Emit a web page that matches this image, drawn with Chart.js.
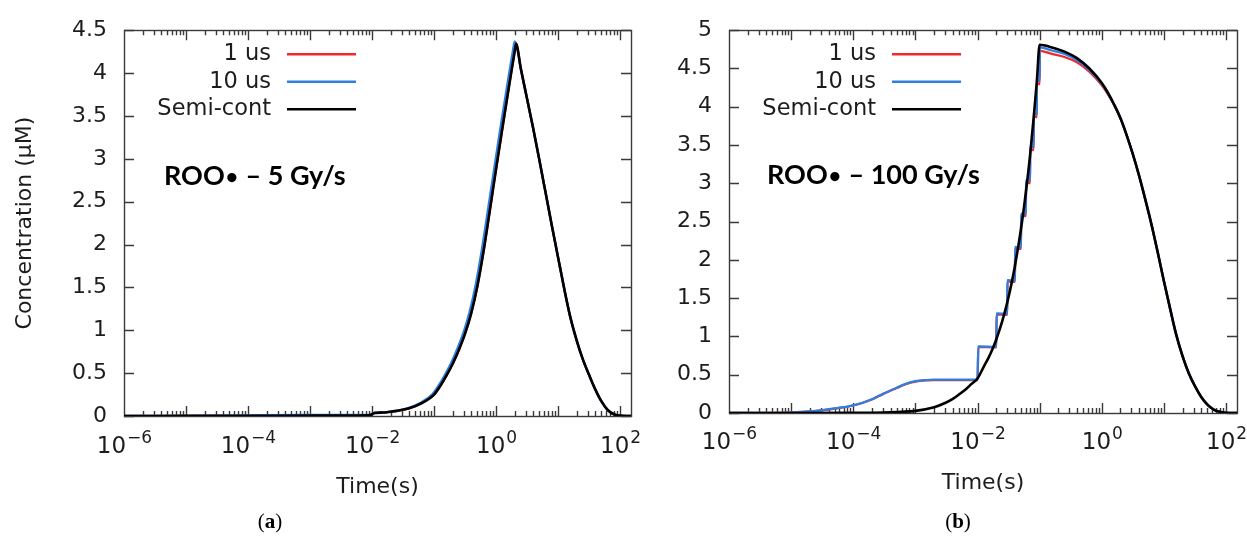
<!DOCTYPE html>
<html>
<head>
<meta charset="utf-8">
<script src="https://cdn.jsdelivr.net/npm/chart.js@4.4.0/dist/chart.umd.min.js"></script>
<style>
  html, body { margin: 0; padding: 0; background: #fff; }
  #wrap { position: relative; width: 1247px; height: 542px; overflow: hidden; }
  canvas { position: absolute; top: 0; }
  #cA { left: 0; }
  #cB { left: 640px; }
  .cap { position: absolute; top: 509px; font-family: "Liberation Serif", serif; font-size: 21px;
         color: #000; transform: translateX(-50%); white-space: nowrap; }
</style>
</head>
<body>
<div id="wrap">
  <canvas id="cA" width="680" height="542"></canvas>
  <canvas id="cB" width="607" height="542"></canvas>
  <div class="cap" style="left:270px">(<b>a</b>)</div>
  <div class="cap" style="left:958px">(<b>b</b>)</div>
</div>
<script>
// ---- series names, ticks and notes ----
const SERIES_NAMES = ['1 us', '10 us', 'Semi-cont'];
const X_TICKS = [1e-6, 1e-4, 1e-2, 1, 1e2];
const Y_TICKS_A = [0, 0.5, 1, 1.5, 2, 2.5, 3, 3.5, 4, 4.5];
const Y_TICKS_B = [0, 0.5, 1, 1.5, 2, 2.5, 3, 3.5, 4, 4.5, 5];
const NOTE_A = 'ROO\u2022 \u2013 5 Gy/s';
const NOTE_B = 'ROO\u2022 \u2013 100 Gy/s';

// ---- (a) 5 Gy/s : time (s) and ROO• concentration (µM) ----
const tA_semi = [1e-6, 1e-5, 1e-4, 1e-3, 9e-3, 0.011, 0.015, 0.02, 0.0251, 0.0398, 0.0631, 0.1,
  0.126, 0.158, 0.2, 0.251, 0.316, 0.398, 0.501, 0.631, 0.794, 1, 1.26, 1.58, 1.995, 2.1,
  2.51, 3.16, 3.98, 5.01, 6.31, 7.94, 10, 12.6, 15.8, 20, 25.1, 31.6, 39.8, 50.1, 63.1, 79.4, 100, 126, 150];
const cA_semi = [0, 0.001, 0.002, 0.004, 0.008, 0.035, 0.04, 0.05, 0.06, 0.09, 0.15, 0.25,
  0.35, 0.47, 0.61, 0.77, 0.96, 1.2, 1.52, 1.93, 2.4, 2.88, 3.35, 3.8, 4.25, 4.34,
  4.05, 3.7, 3.35, 2.98, 2.6, 2.22, 1.85, 1.48, 1.15, 0.88, 0.66, 0.48, 0.31, 0.17, 0.07, 0.02, 0.004, 0, 0];
const cA_1us = [0, 0.001, 0.002, 0.004, 0.008, 0.035, 0.04, 0.05, 0.06, 0.09, 0.15, 0.25,
  0.35, 0.47, 0.61, 0.77, 0.96, 1.2, 1.52, 1.93, 2.4, 2.88, 3.35, 3.8, 4.26, 4.35,
  4.05, 3.7, 3.35, 2.98, 2.6, 2.22, 1.85, 1.48, 1.15, 0.88, 0.66, 0.48, 0.31, 0.17, 0.07, 0.02, 0.004, 0, 0];
const tA_10us = [1e-6, 1e-5, 1e-4, 1e-3, 9e-3, 0.0105, 0.015, 0.02, 0.0251, 0.037, 0.0587, 0.093,
  0.117, 0.147, 0.186, 0.233, 0.294, 0.37, 0.466, 0.587, 0.738, 0.93, 1.17, 1.47, 1.86, 2.0,
  2.51, 3.16, 3.98, 5.01, 6.31, 7.94, 10, 12.6, 15.8, 20, 25.1, 31.6, 39.8, 50.1, 63.1, 79.4, 100, 126, 150];
const cA_10us = [0, 0.002, 0.008, 0.012, 0.014, 0.036, 0.042, 0.05, 0.06, 0.09, 0.15, 0.25,
  0.35, 0.47, 0.61, 0.77, 0.96, 1.2, 1.52, 1.93, 2.4, 2.88, 3.35, 3.8, 4.25, 4.37,
  4.05, 3.7, 3.35, 2.98, 2.6, 2.22, 1.85, 1.48, 1.15, 0.88, 0.66, 0.48, 0.31, 0.17, 0.07, 0.02, 0.004, 0, 0];

// ---- (b) 100 Gy/s ----
// build-up during irradiation (up to 0.1 s)
const tB_semiRise = [1e-6, 1e-5, 1e-4, 3e-4, 1e-3, 2e-3, 3e-3, 4e-3, 5e-3, 6.7e-3, 8e-3, 0.01,
  0.0125, 0.015, 0.0175, 0.02, 0.025, 0.03, 0.035, 0.04, 0.05, 0.06, 0.07, 0.08, 0.09, 0.1];
const cB_semiRise = [0, 0, 0.002, 0.007, 0.028, 0.075, 0.13, 0.185, 0.24, 0.32, 0.38, 0.45,
  0.6, 0.72, 0.84, 0.96, 1.2, 1.44, 1.68, 1.92, 2.4, 2.88, 3.36, 3.85, 4.33, 4.81];
const tB_pulsedRise = [1e-6, 5e-6, 1e-5, 2e-5, 3e-5, 5e-5, 1e-4, 2e-4, 3e-4, 5e-4, 7e-4, 1e-3, 1.5e-3, 2e-3, 5e-3,
  0.01, 0.0103, 0.02, 0.0203, 0.03, 0.0303, 0.04, 0.0403, 0.05, 0.0503, 0.06, 0.0603,
  0.07, 0.0703, 0.08, 0.0803, 0.09, 0.0903, 0.1, 0.1003];
const cB_10usRise = [0, 0.001, 0.005, 0.02, 0.035, 0.06, 0.1, 0.18, 0.25, 0.33, 0.38, 0.415, 0.43, 0.435, 0.435,
  0.435, 0.87, 0.865, 1.3, 1.295, 1.735, 1.73, 2.17, 2.165, 2.605, 2.6, 3.04,
  3.035, 3.475, 3.47, 3.91, 3.905, 4.345, 4.34, 4.775];
const cB_1usRise = [0, 0.002, 0.007, 0.02, 0.033, 0.058, 0.098, 0.177, 0.247, 0.326, 0.376, 0.41, 0.426, 0.43, 0.43,
  0.43, 0.862, 0.857, 1.288, 1.283, 1.718, 1.713, 2.148, 2.143, 2.578, 2.573, 3.008,
  3.003, 3.44, 3.435, 3.87, 3.865, 4.3, 4.295, 4.73];
// decay after irradiation
const tB_decay = [0.158, 0.251, 0.398, 0.631, 1, 1.26, 1.58, 2.0, 2.51, 3.16, 3.98, 5.01, 6.31, 7.94,
  10, 12.6, 15.8, 20, 25.1, 31.6, 39.8, 50.1, 63.1, 79.4, 100, 150];
const cB_semiDecay = [4.775, 4.72, 4.635, 4.5, 4.31, 4.18, 4.03, 3.85, 3.63, 3.38, 3.1, 2.79, 2.46, 2.1,
  1.72, 1.36, 1.02, 0.74, 0.52, 0.35, 0.21, 0.11, 0.045, 0.015, 0.003, 0];
const cB_10usDecay = [4.735, 4.69, 4.61, 4.48, 4.295, 4.17, 4.025, 3.85, 3.63, 3.38, 3.1, 2.79, 2.46, 2.1,
  1.72, 1.36, 1.02, 0.74, 0.52, 0.35, 0.21, 0.11, 0.045, 0.015, 0.003, 0];
const cB_1usDecay = [4.69, 4.65, 4.58, 4.46, 4.28, 4.16, 4.02, 3.845, 3.63, 3.38, 3.1, 2.79, 2.46, 2.1,
  1.72, 1.36, 1.02, 0.74, 0.52, 0.35, 0.21, 0.11, 0.045, 0.015, 0.003, 0];

// ---- styling ----
const COLORS = ['#ee2a2f', '#2f7fe0', '#000000'];
const TEXT_COLOR = '#1c1c1c';
const AXIS_FONT = { family: 'DejaVu Sans', size: 22 };
const X_MIN = 1e-6, X_MAX = 150;

const pts = (ts, vs) => ts.map((t, i) => ({ x: t, y: vs[i] }));

// Box frame with inward ticks (log minor ticks on x)
const frameTicks = {
  id: 'frameTicks',
  beforeDatasetsDraw(chart, args, o) {
    const { ctx, chartArea: a, scales: { x, y } } = chart;
    ctx.save();
    ctx.strokeStyle = o.color;
    ctx.lineWidth = o.width;
    ctx.beginPath();
    const lo = Math.floor(Math.log10(x.min)), hi = Math.ceil(Math.log10(x.max));
    for (let e = lo; e <= hi; e++) {
      for (let m = 1; m <= 9; m++) {
        const v = m * Math.pow(10, e);
        if (v <= x.min * 1.0001 || v > x.max) continue;
        const px = Math.round(x.getPixelForValue(v)) + 0.5;
        const len = m === 1 ? o.major : o.minor;
        ctx.moveTo(px, a.bottom); ctx.lineTo(px, a.bottom - len);
        ctx.moveTo(px, a.top); ctx.lineTo(px, a.top + len);
      }
    }
    y.ticks.forEach(t => {
      const py = Math.round(y.getPixelForValue(t.value)) + 0.5;
      ctx.moveTo(a.left, py); ctx.lineTo(a.left + o.major, py);
      ctx.moveTo(a.right, py); ctx.lineTo(a.right - o.major, py);
    });
    ctx.stroke();
    ctx.strokeRect(Math.round(a.left) + 0.5, Math.round(a.top) + 0.5, Math.round(a.width), Math.round(a.height));
    ctx.restore();
  }
};

// Decade labels "10" with a raised exponent, centred on each x tick
const powerLabels = {
  id: 'powerLabels',
  afterDraw(chart, args, o) {
    const { ctx, chartArea: a, scales: { x } } = chart;
    ctx.save();
    ctx.fillStyle = o.color;
    ctx.textAlign = 'left';
    ctx.textBaseline = 'alphabetic';
    x.ticks.forEach(t => {
      const e = Math.round(Math.log10(t.value));
      const expText = e < 0 ? '\u2212' + (-e) : String(e);
      ctx.font = o.baseFont;
      const wb = ctx.measureText('10').width;
      ctx.font = o.expFont;
      const we = ctx.measureText(expText).width;
      const x0 = x.getPixelForValue(t.value) - (wb + we) / 2;
      ctx.font = o.baseFont;
      ctx.fillText('10', x0, a.bottom + o.baseDy);
      ctx.font = o.expFont;
      ctx.fillText(expText, x0 + wb + 1, a.bottom + o.expDy);
    });
    ctx.restore();
  }
};

// Key with right-aligned labels followed by line samples
const sideLegend = {
  id: 'sideLegend',
  afterDatasetsDraw(chart, args, o) {
    const { ctx, chartArea: a } = chart;
    ctx.save();
    ctx.font = o.font;
    ctx.textAlign = 'right';
    ctx.textBaseline = 'middle';
    chart.data.datasets.forEach((ds, i) => {
      const yy = a.top + o.top + i * o.rowGap;
      ctx.fillStyle = o.color;
      ctx.fillText(ds.label, a.left + o.textRight, yy);
      ctx.strokeStyle = ds.borderColor;
      ctx.lineWidth = o.lineWidth;
      ctx.beginPath();
      ctx.moveTo(a.left + o.lineStart, yy);
      ctx.lineTo(a.left + o.lineEnd, yy);
      ctx.stroke();
    });
    ctx.restore();
  }
};

// Bold note inside the plot area; the radical dot is set a little smaller
const innerNote = {
  id: 'innerNote',
  afterDatasetsDraw(chart, args, o) {
    const { ctx, chartArea: a } = chart;
    const [head, tail] = o.text.split('\u2022');
    const big = `bold ${o.size}px ${o.family}`;
    const small = `bold ${Math.round(o.size * 0.78)}px ${o.family}`;
    let xx = a.left + o.dx;
    const yy = a.top + o.dy;
    ctx.save();
    ctx.fillStyle = '#000';
    ctx.textAlign = 'left';
    ctx.textBaseline = 'alphabetic';
    ctx.font = big;
    ctx.fillText(head, xx, yy);
    xx += ctx.measureText(head).width;
    ctx.font = small;
    ctx.fillText('\u2022', xx + 1, yy - o.size * 0.06);
    xx += ctx.measureText('\u2022').width + 2;
    ctx.font = big;
    ctx.fillText(tail, xx, yy);
    ctx.restore();
  }
};

function makeChart(id, cfg) {
  const datasets = cfg.series.map((s, i) => ({
    label: SERIES_NAMES[i],
    data: pts(s.t, s.c),
    borderColor: COLORS[i],
    backgroundColor: COLORS[i],
    borderWidth: i === 2 ? 2.6 : 2.3,
    pointRadius: 0,
    cubicInterpolationMode: 'monotone',
    order: 3 - i,
    fill: false
  }));
  return new Chart(document.getElementById(id), {
    type: 'line',
    data: { datasets },
    plugins: [frameTicks, sideLegend, innerNote, powerLabels],
    options: {
      responsive: false,
      animation: false,
      devicePixelRatio: 1,
      layout: { padding: cfg.padding },
      plugins: {
        legend: { display: false },
        tooltip: { enabled: false },
        frameTicks: { color: '#3a3a3a', width: 1.4, major: 10, minor: 5 },
        powerLabels: { color: TEXT_COLOR, baseFont: '23px "DejaVu Sans"', expFont: '17px "DejaVu Sans"',
                       baseDy: cfg.labelDy, expDy: cfg.labelDy - 10 },
        sideLegend: { font: '22.5px "DejaVu Sans"', color: TEXT_COLOR, top: 24, rowGap: 27.5,
                      textRight: 147, lineStart: 163, lineEnd: 232, lineWidth: 2.6 },
        innerNote: { text: cfg.note, size: 27, family: 'Lato', dx: cfg.noteDx, dy: cfg.noteDy }
      },
      scales: {
        x: {
          type: 'logarithmic', min: X_MIN, max: X_MAX,
          grid: { display: false, drawTicks: false },
          border: { display: false },
          afterBuildTicks: s => { s.ticks = X_TICKS.map(v => ({ value: v })); },
          afterFit: s => { s.height = cfg.xHeight; s.paddingLeft = 0; s.paddingRight = 0; },
          ticks: { display: false, autoSkip: false, maxRotation: 0 },
          title: { display: true, text: 'Time(s)', color: TEXT_COLOR, font: AXIS_FONT,
                   padding: { top: 0, bottom: cfg.xTitlePad } }
        },
        y: {
          type: 'linear', min: 0, max: cfg.yTicks[cfg.yTicks.length - 1],
          grid: { display: false, drawTicks: false },
          border: { display: false },
          afterBuildTicks: s => { s.ticks = cfg.yTicks.map(v => ({ value: v })); },
          afterFit: s => { s.width = cfg.yWidth; },
          ticks: { padding: 17, color: TEXT_COLOR, font: AXIS_FONT, callback: v => String(v) },
          title: { display: cfg.yTitle, text: 'Concentration (\u00B5M)', color: TEXT_COLOR,
                   font: AXIS_FONT, padding: { top: 12, bottom: 0 } }
        }
      }
    }
  });
}

makeChart('cA', {
  series: [{ t: tA_semi, c: cA_1us }, { t: tA_10us, c: cA_10us }, { t: tA_semi, c: cA_semi }],
  yTicks: Y_TICKS_A, yWidth: 124, xHeight: 126, xTitlePad: 42, yTitle: true, labelDy: 37,
  padding: { left: 0, right: 49, top: 24, bottom: 0 },
  note: NOTE_A, noteDx: 40, noteDy: 155
});
makeChart('cB', {
  series: [
    { t: tB_pulsedRise.concat(tB_decay), c: cB_1usRise.concat(cB_1usDecay) },
    { t: tB_pulsedRise.concat(tB_decay), c: cB_10usRise.concat(cB_10usDecay) },
    { t: tB_semiRise.concat(tB_decay), c: cB_semiRise.concat(cB_semiDecay) }
  ],
  yTicks: Y_TICKS_B, yWidth: 89, xHeight: 129, xTitlePad: 46, yTitle: false, labelDy: 36,
  padding: { left: 0, right: 10, top: 22, bottom: 0 },
  note: NOTE_B, noteDx: 38, noteDy: 154
});
</script>
</body>
</html>
